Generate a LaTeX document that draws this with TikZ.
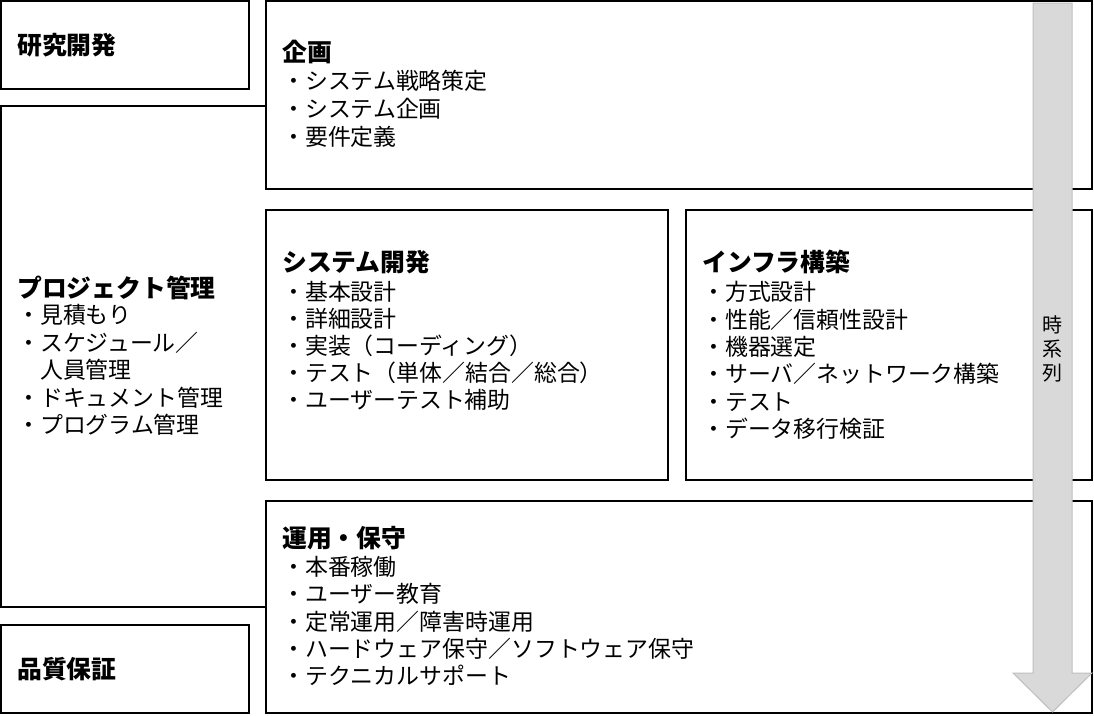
\documentclass[tikz,border=0pt]{standalone}
\usepackage{fontspec}
\setmainfont{Noto Sans CJK JP}
\usetikzlibrary{positioning}
\tikzset{
  frame/.style   = {draw, line width=2pt, inner sep=0pt, outer sep=0pt, anchor=north west},
  heading/.style = {font=\bfseries\fontsize{24.8}{28}\selectfont, inner sep=0pt, anchor=base west},
  item/.style    = {font=\fontsize{22.9}{27}\selectfont, inner sep=0pt, anchor=base west},
  timeline/.style = {fill=gray!30, draw=gray!50, line width=1pt}
}

\begin{document}
\begin{tikzpicture}[x=1pt,y=-1pt]
\useasboundingbox (0,0) rectangle (1094,715);

% frames
\node[frame, minimum width=248, minimum height=88]  (research) at (1,1) {};
\node[frame, minimum width=826, minimum height=188] (plan)     at (266,1) {};
\node[frame, minimum width=402, minimum height=270] (sysdev)   at (266,210) {};
\node[frame, minimum width=406, minimum height=270] (infra)    at (686,210) {};
\node[frame, minimum width=826, minimum height=212] (ops)      at (266,501) {};
\node[frame, minimum width=248, minimum height=88]  (quality)  at (1,625) {};
\draw[line width=2pt] (266,106) -| (1,607) -- (266,607);

% headings
\node[heading] (research title) at (17,54)  {研究開発};
\node[heading] (plan title)     at (282,61) {企画};
\node[heading] (project title)  at (17,297) {プロジェクト管理};
\node[heading] (sysdev title)   at (282,271) {システム開発};
\node[heading] (infra title)    at (702,271) {インフラ構築};
\node[heading] (ops title)      at (282,547) {運用・保守};
\node[heading] (quality title)  at (17,678) {品質保証};

% entries
\foreach \txt [count=\i] in {・システム戦略策定,・システム企画,・要件定義}
  \node[item] (plan\i) at (282,{89.6+28*(\i-1)}) {\txt};

\foreach \txt [count=\i] in {・見積もり,・スケジュール／,　人員管理,・ドキュメント管理,・プログラム管理}
  \node[item] (project\i) at (17,{323.6+27.5*(\i-1)}) {\txt};

\foreach \txt [count=\i] in {・基本設計,・詳細設計,・実装（コーディング）,・テスト（単体／結合／総合）,・ユーザーテスト補助}
  \node[item] (sysdev\i) at (282,{300.6+27*(\i-1)}) {\txt};

\foreach \txt [count=\i] in {・方式設計,・性能／信頼性設計,・機器選定,・サーバ／ネットワーク構築,・テスト,・データ移行検証}
  \node[item] (infra\i) at (702,{300.6+27.4*(\i-1)}) {\txt};

\foreach \txt [count=\i] in {・本番稼働,・ユーザー教育,・定常運用／障害時運用,・ハードウェア保守／ソフトウェア保守,・テクニカルサポート}
  \node[item] (ops\i) at (282,{575.6+27.25*(\i-1)}) {\txt};

% time arrow
\draw[timeline] (1033,3) -- (1072,3) -- (1072,673) -- (1092,673)
  -- (1052.5,712) -- (1013,673) -- (1033,673) -- cycle;
\node[font=\fontsize{20}{24}\selectfont, align=center, inner sep=0pt] (time) at (1052.5,349) {時\\系\\列};

\end{tikzpicture}
\end{document}
